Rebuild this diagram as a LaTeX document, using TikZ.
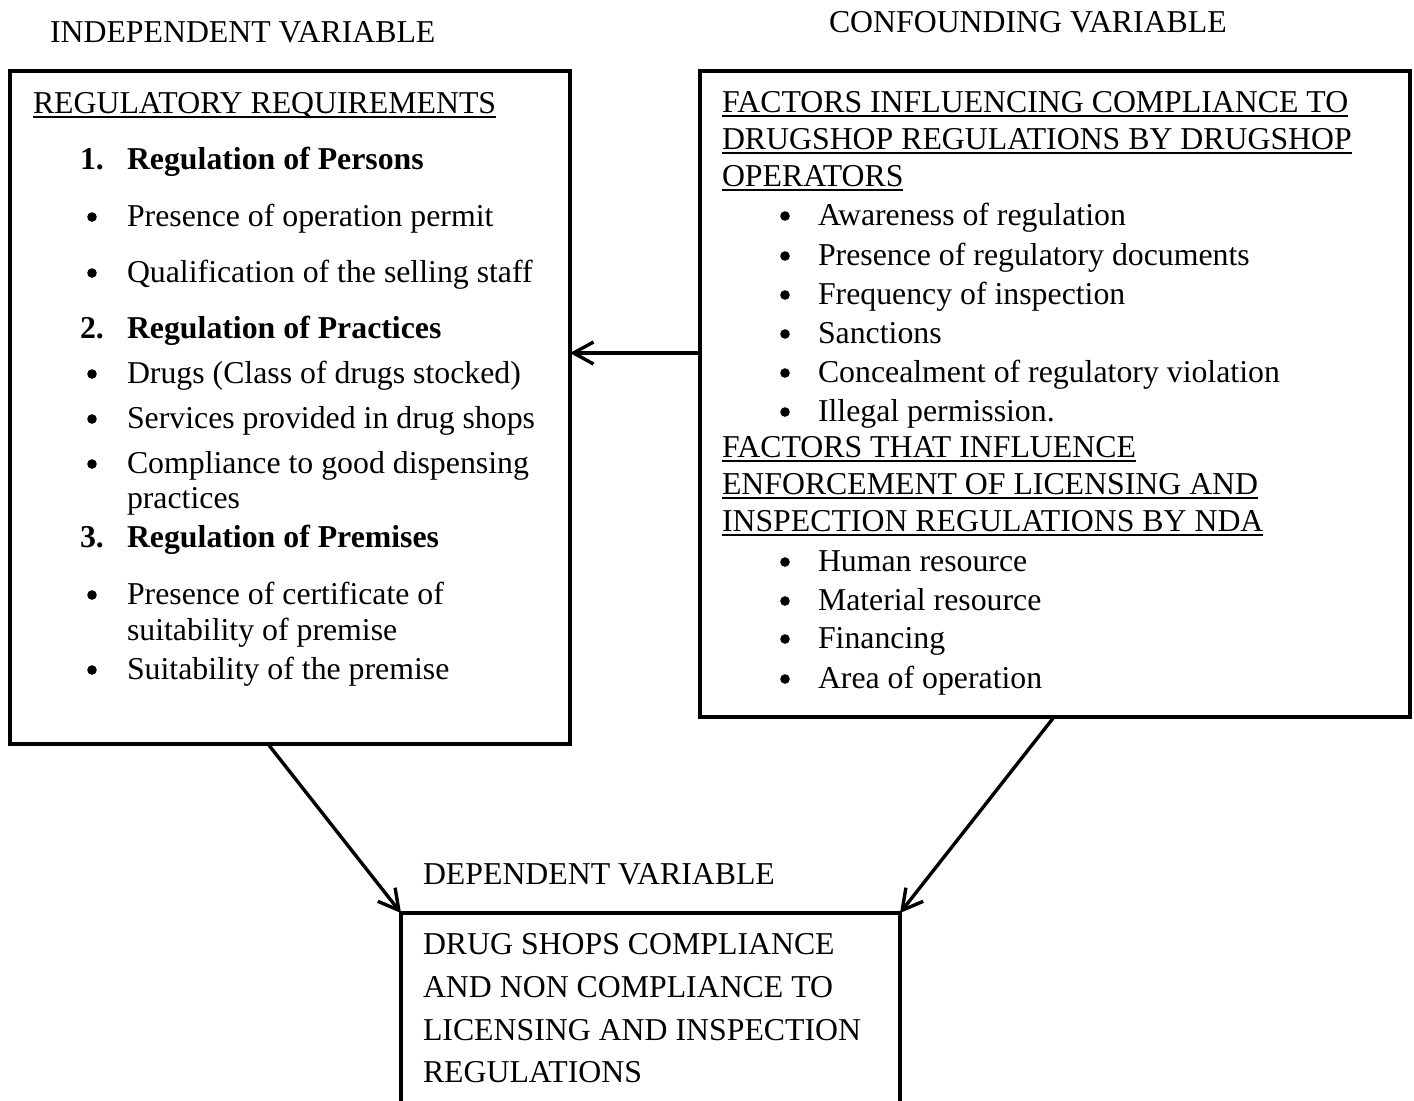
\documentclass[tikz,border=0pt]{standalone}
\usepackage{fontspec}
\setmainfont{Liberation Serif}
\usetikzlibrary{arrows.meta,fit,calc}
\newsavebox\ulbox
\newcommand\ulin[1]{\sbox\ulbox{#1}\rlap{\vrule height -1.6pt depth 2.6pt width \wd\ulbox}\usebox\ulbox}
\begin{document}
\begin{tikzpicture}[x=0.5pt,y=-0.5pt,
  txt/.style={anchor=base west,inner sep=0pt,outer sep=0pt,font=\fontsize{15.9pt}{19pt}\selectfont},
  btxt/.style={txt,font=\fontsize{15.9pt}{19pt}\selectfont\bfseries},
  box/.style={draw,line width=1.8pt,inner sep=0pt,outer sep=0pt},
  arr/.style={line width=1.7pt,-{Straight Barb[length=10pt,width=11pt]}},
  bul/.style={fill=black}]
\clip (0,0) rectangle (1414,1100);
% boxes
\node[box,fit={(10,71) (570,744)}] (L) {};
\node[box,fit={(700,71) (1410,717)}] (R) {};
\node[box,fit={(401,913) (900,1140)}] (D) {};
% titles
\node[txt] (tI) at (50,42) {INDEPENDENT VARIABLE};
\node[txt] (tC) at (829,32) {CONFOUNDING VARIABLE};
\node[txt] (tD) at (423,884) {DEPENDENT VARIABLE};
% left box
\node[txt] (lh) at (33,113) {\ulin{REGULATORY REQUIREMENTS}};
\foreach \y/\n/\t [count=\i] in {169/1./Regulation of Persons,338/2./Regulation of Practices,547/3./Regulation of Premises}{
  \node[btxt] (ln\i) at (80,\y) {\n};
  \node[btxt] (lt\i) at (127,\y) {\t};
}
\foreach \y/\t [count=\i] in {226/Presence of operation permit,282/Qualification of the selling staff,383/Drugs (Class of drugs stocked),428/Services provided in drug shops,473/Compliance to good dispensing,604/Presence of certificate of,679/Suitability of the premise}{
  \node[txt] (lb\i) at (127,\y) {\t};
  \fill[bul] (92,\y-9) circle (2.4pt);
}
\node[txt] (lc1) at (127,508) {practices};
\node[txt] (lc2) at (127,640) {suitability of premise};
% right box
\foreach \y/\t [count=\i] in {112/FACTORS INFLUENCING COMPLIANCE TO,149/DRUGSHOP REGULATIONS BY DRUGSHOP,186/OPERATORS,457/FACTORS THAT INFLUENCE,494/ENFORCEMENT OF LICENSING AND,531/INSPECTION REGULATIONS BY NDA}{
  \node[txt] (rh\i) at (722,\y) {\ulin{\t}};
}
\foreach \y/\t [count=\i] in {225/Awareness of regulation,265/Presence of regulatory documents,304/Frequency of inspection,343/Sanctions,382/Concealment of regulatory violation,421/Illegal permission.,571/Human resource,610/Material resource,648/Financing,688/Area of operation}{
  \node[txt] (rb\i) at (818,\y) {\t};
  \fill[bul] (785,\y-9) circle (2.4pt);
}
% bottom box
\foreach \y/\t [count=\i] in {954/DRUG SHOPS COMPLIANCE,997/AND NON COMPLIANCE TO,1040/LICENSING AND INSPECTION,1082/REGULATIONS}{
  \node[txt] (d\i) at (423,\y) {\t};
}
% connectors
\draw[arr] ($(R.north west)+(0,282)$) -- ($(L.north east)+(0,282)$);
\draw[arr] ($(L.south west)+(258,0)$) -- (D.north west);
\draw[arr] ($(R.south west)+(354,0)$) -- (D.north east);
\end{tikzpicture}
\end{document}
